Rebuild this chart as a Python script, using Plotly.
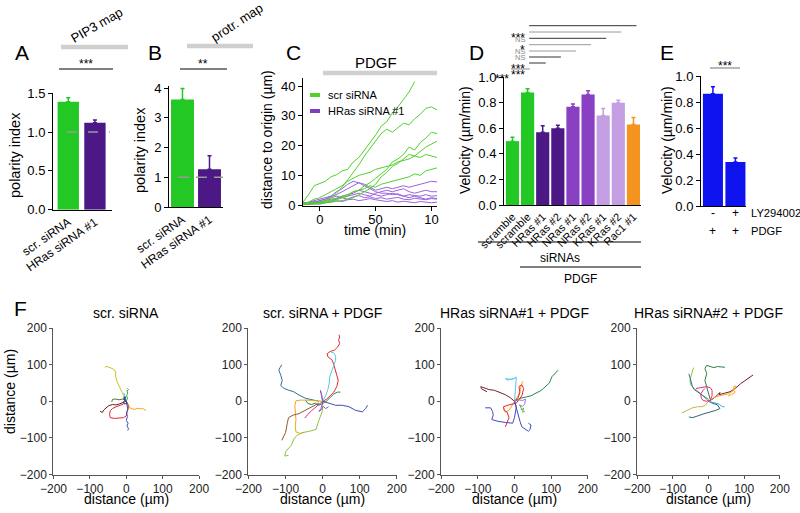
import plotly.graph_objects as go

W, H = 800, 513
FONT = "Liberation Sans, Arial, Helvetica, sans-serif"

# ---------------- data ----------------
# Panel A (PIP3 map polarity index)
a_labels = ["scr. siRNA", "HRas siRNA #1"]
a_values = [1.39, 1.12]
a_errors = [0.05, 0.035]
# Panel B (protrusion map polarity index)
b_labels = ["scr. siRNA", "HRas siRNA #1"]
b_values = [3.62, 1.27]
b_errors = [0.37, 0.45]
ref_level = 1.0

# Panel C (distance to origin vs time)
c_time = [-15, -10, -5, 0, 5, 10, 15, 20, 25, 30, 35, 40, 45, 50, 55, 60, 65, 70, 75, 80, 85, 90, 95, 100, 105]
c_scr = [
    [1.0, 3.5, 6.5, 7.2, 8.0, 9.5, 10.2, 11.5, 12.0, 14.5, 16.0, 18.5, 21.0, 23.5, 26.5, 28.0, 31.0, 33.0, 35.5, 38.0, 41.5, None, None, None, None],
    [0.3, 0.8, 0.5, 1.2, 1.5, 2.5, 4.0, 6.0, 8.5, 11.0, 13.5, 16.5, 19.0, 21.5, 24.0, 25.5, 24.5, 26.0, 27.5, 27.0, 29.0, 30.5, 32.5, 33.0, 32.0],
    [0.2, 0.5, 0.8, 0.6, 1.0, 1.5, 1.8, 2.5, 3.0, 4.5, 5.0, 6.5, 7.5, 9.0, 10.5, 12.0, 14.5, 15.5, 17.0, 19.5, 18.5, 21.0, 22.5, 24.5, 24.0],
    [0.4, 1.0, 2.0, 2.5, 3.5, 4.5, 5.5, 6.5, 8.0, 9.0, 10.0, 10.5, 11.0, 12.0, 12.5, 13.0, 13.5, 14.5, 15.0, 15.5, 16.5, 16.0, 17.0, 16.5, 16.0],
    [0.2, 0.4, 0.3, 0.5, 0.8, 1.0, 1.2, 1.5, 2.0, 2.5, 3.5, 4.5, 5.5, 7.0, 9.5, 11.0, 13.0, 14.0, 15.5, 17.0, 16.5, 18.0, 19.5, 20.5, 21.5],
    [0.3, 0.5, 0.4, 1.0, 1.2, 1.8, 2.5, 3.0, 3.5, 4.5, 5.0, 5.5, 6.5, 6.0, 7.0, 7.5, 8.0, 8.5, 9.0, 9.5, 10.5, 10.0, 11.5, 12.0, 12.5],
]
c_hras = [
    [0.5, 1.0, 1.5, 2.0, 2.5, 3.0, 3.5, 4.5, 5.5, 6.5, 7.5, 7.0, 6.0, 5.0, 5.5, 6.0, 5.5, 6.0, 6.5, 6.0, 6.5, 7.0, 7.5, 8.0, 7.8],
    [1.0, 0.5, 1.0, 1.5, 2.0, 3.0, 4.5, 5.5, 7.0, 8.0, 7.5, 6.5, 5.5, 4.5, 4.0, 4.0, 3.5, 3.8, 3.0, 3.5, 3.2, 3.0, 3.5, 3.0, 3.2],
    [0.2, 0.8, 1.2, 1.0, 1.5, 2.0, 2.2, 3.0, 3.5, 4.0, 5.0, 4.5, 4.0, 3.5, 3.0, 3.5, 4.0, 3.5, 3.0, 2.5, 3.0, 2.5, 2.0, 2.5, 2.2],
    [0.3, 0.5, 0.8, 1.5, 2.0, 2.5, 3.0, 2.5, 3.0, 3.5, 4.0, 3.5, 3.0, 4.0, 4.5, 5.0, 4.5, 5.0, 5.5, 4.5, 4.0, 4.5, 5.0, 4.5, 4.5],
    [0.1, 0.3, 0.5, 0.3, 0.8, 1.0, 1.5, 1.2, 1.8, 2.0, 1.5, 1.8, 2.2, 1.8, 1.5, 1.2, 1.5, 1.0, 1.3, 1.0, 0.8, 1.2, 1.0, 0.8, 1.0],
    [0.5, 0.2, 0.6, 1.0, 0.8, 1.5, 2.0, 2.5, 2.0, 2.8, 3.2, 2.5, 2.8, 2.2, 2.5, 2.0, 2.2, 2.6, 2.0, 1.8, 2.3, 2.0, 1.8, 2.2, 2.0],
]
c_xticks = [0, 50, 100]
c_xticklabels = ["0", "50", "10"]

# Panel D (velocity)
d_labels = ["scramble", "scramble", "HRas #1", "HRas #2", "NRas #1", "NRas #2", "KRas #1", "KRas #2", "Rac1 #1"]
d_values = [0.50, 0.88, 0.57, 0.60, 0.77, 0.865, 0.70, 0.80, 0.63]
d_errors = [0.03, 0.03, 0.05, 0.025, 0.02, 0.03, 0.055, 0.02, 0.055]
d_sig_targets = [8, 7, 6, 5, 4, 3, 2]
d_sig_labels = ["***", "NS", "*", "NS", "NS", "***", "***"]

# Panel E (velocity +/- LY294002)
e_values = [0.865, 0.34]
e_errors = [0.055, 0.03]
e_ly = ["-", "+"]
e_pdgf = ["+", "+"]

# Panel F (cell tracks, x/y in um)
f1_tracks = [
    [(0, 0), (-4, 8), (-8, 18), (-14, 28), (-18, 38), (-22, 46), (-26, 55), (-28, 64), (-30, 72), (-29, 80), (-34, 87), (-42, 91), (-50, 93), (-56, 96), (-58, 92)],
    [(0, 0), (3, -5), (6, -12), (10, -18), (16, -21), (24, -22), (30, -19), (38, -21), (45, -20), (50, -24), (54, -25)],
    [(0, 0), (4, -8), (6, -18), (2, -28), (0, -40), (-8, -45), (-20, -46), (-32, -47), (-44, -45), (-46, -36), (-44, -26), (-38, -20), (-28, -15), (-18, -12), (-8, -8)],
    [(-72, -27), (-66, -31), (-62, -24), (-56, -18), (-48, -12), (-38, -9), (-28, -10), (-18, -7), (-8, -4), (0, 0)],
    [(0, 0), (2, -10), (4, -22), (1, -32), (3, -42), (0, -52), (5, -60), (2, -68), (6, -75), (4, -80)],
    [(0, 0), (3, 8), (1, 16), (4, 22), (2, 28), (6, 32), (3, 35)],
    [(-40, -2), (-38, 5), (-30, 6), (-20, 4), (-10, 6), (0, 2)],
    [(0, 0), (-3, 6), (-6, 14), (-4, 20), (-8, 22)],
    [(0, 0), (-4, 6), (-2, 12), (-7, 10), (-5, 2), (-9, -4), (-3, -8), (2, -2)],
]
f2_tracks = [
    [(0, 0), (10, 5), (20, 15), (30, 25), (38, 40), (42, 57), (38, 72), (35, 85), (30, 100), (26, 112), (14, 122), (12, 130), (20, 136), (32, 140), (40, 148), (46, 158), (43, 168), (46, 176), (44, 182)],
    [(0, 0), (8, 15), (14, 32), (18, 50), (19, 67), (24, 82), (30, 98), (35, 112), (35, 124), (30, 132), (22, 135)],
    [(-10, 0), (-28, 3), (-46, 8), (-64, 17), (-78, 26), (-91, 30), (-104, 35), (-113, 43), (-109, 57), (-113, 71), (-118, 85), (-115, 92), (-110, 100)],
    [(0, 0), (15, -5), (35, -11), (53, -11), (71, -15), (89, -25), (107, -29), (116, -20), (121, -11)],
    [(0, 0), (-20, 2), (-40, 3), (-60, 3), (-72, 1), (-75, -12), (-73, -30), (-72, -50), (-74, -68), (-72, -84), (-60, -88), (-50, -85)],
    [(-10, -5), (-28, -15), (-46, -24), (-64, -34), (-80, -38), (-92, -45), (-95, -58), (-97, -72), (-100, -86), (-106, -98), (-110, -107)],
    [(0, 0), (0, -25), (-10, -52), (-18, -77), (-35, -82), (-55, -86), (-70, -94), (-78, -104), (-84, -120), (-92, -130), (-100, -138), (-102, -150), (-92, -148)],
    [(0, 0), (-10, -8), (-20, -16), (-30, -26), (-40, -36), (-48, -46)],
    [(0, 0), (-2, 10), (-3, 22), (-6, 30), (-2, 15), (0, -5), (-5, -20), (-10, -28), (-4, -24), (2, -14), (8, -20), (16, -15)],
    [(-45, 2), (-40, -6), (-30, -9), (-20, -5), (-10, -11), (0, -5), (10, 0), (20, 10), (30, 20), (40, 25), (48, 25)],
]
f3_tracks = [
    [(0, 0), (15, 8), (33, 12), (45, 15), (56, 21), (70, 28), (80, 36), (88, 44), (95, 50), (102, 67), (110, 75), (119, 85)],
    [(0, 0), (-12, 10), (-25, 18), (-40, 25), (-55, 30), (-70, 32), (-85, 38), (-92, 40), (-90, 34), (-80, 28), (-75, 26)],
    [(0, 0), (2, 20), (3, 40), (5, 55), (5, 65), (-10, 60), (-25, 62), (-20, 58), (0, 62), (5, 67)],
    [(-30, -20), (-25, -30), (-15, -25), (-5, -10), (0, 0), (10, 15), (15, 30), (20, 45), (22, 55)],
    [(0, 0), (10, 10), (15, 25), (12, 40), (20, 45), (25, 35), (20, 15), (5, -5), (-15, -10), (-30, -15), (-28, -25), (-20, -30), (-15, -45), (-20, -60), (-25, -70)],
    [(-80, -18), (-65, -18), (-60, -28), (-58, -38), (-62, -50), (-45, -55), (-25, -58), (-5, -60), (0, -45), (3, -30), (5, -15), (0, 0), (5, -20), (10, -40), (15, -55), (20, -70), (30, -78), (38, -82), (42, -78), (45, -65), (38, -60)],
    [(0, 0), (12, 4), (22, 2), (30, 6), (28, -8), (22, -14), (12, -10)],
    [(15, -10), (20, -24), (25, -18), (22, -30), (28, -28)],
]
f4_tracks = [
    [(0, 0), (10, 5), (23, 15), (28, 20), (32, 24), (30, 18), (35, 20), (45, 22), (60, 26), (75, 35), (90, 48), (100, 55), (110, 62), (118, 68), (125, 72)],
    [(0, 0), (15, 10), (30, 15), (45, 18), (55, 20), (65, 25), (75, 35), (78, 40), (72, 42), (70, 30), (75, 25), (65, 18), (55, 15)],
    [(5, 5), (0, 20), (-5, 39), (-10, 57), (-5, 76), (-10, 90), (-5, 98), (5, 95), (15, 92), (25, 95), (35, 94), (46, 93)],
    [(0, 0), (-10, 10), (-20, 20), (-30, 28), (-40, 35), (-50, 45), (-52, 58), (-48, 70), (-45, 80), (-42, 92)],
    [(0, 0), (-5, -5), (-10, -12), (-20, -15), (-31, -15), (-45, -18), (-60, -25), (-75, -32)],
    [(0, 0), (10, -5), (25, -10), (32, -20), (20, -25), (0, -30), (-15, -35), (-30, -40), (-45, -45), (-55, -43)],
    [(0, 0), (10, -2), (20, -5), (30, -8), (35, -12), (40, -15), (45, -15)],
    [(0, 5), (-15, 15), (-30, 25), (-40, 32), (-45, 40), (-48, 55), (-52, 65), (-55, 75)],
    [(-35, 35), (-25, 37), (-15, 40), (-5, 40), (5, 37), (10, 30), (10, 15), (5, 3), (-5, 0), (-15, 2), (-20, 8), (-22, 20), (-15, 30), (-10, 35)],
]
f_titles = ["scr. siRNA", "scr. siRNA + PDGF", "HRas siRNA#1 + PDGF", "HRas siRNA#2 + PDGF"]
f_ticks = [-200, -100, 0, 100, 200]

# ---------------- styles ----------------
GREEN = "#24c824"
DPURPLE = "#4b1886"
MPURPLE = "#8a40c2"
LPURPLE = "#c49ee2"
ORANGE = "#f5931f"
BLUE = "#0d12ee"
a_colors = [GREEN, DPURPLE]
d_colors = [GREEN, GREEN, DPURPLE, DPURPLE, MPURPLE, MPURPLE, LPURPLE, LPURPLE, ORANGE]
C_GREEN = "#4fd22c"
C_PURPLE = "#9c62de"
f1_colors = ["#cfc21e", "#f7a21b", "#e5262a", "#6e1a22", "#3b4cb8", "#2f9e44", "#557a2a", "#5ec4e6", "#1f2f7a"]
f2_colors = ["#e5262a", "#5ec4e6", "#2c6e9e", "#3b4cb8", "#f7a21b", "#8c5a2b", "#8cc43c", "#e0208f", "#8e5bc9", "#1f8a4a"]
f3_colors = ["#1f8a4a", "#7a1f2b", "#5ec4e6", "#f7a21b", "#e5262a", "#3b4cb8", "#9a7bd0", "#59b83a"]
f4_colors = ["#6e1a22", "#f7a21b", "#2f7a4a", "#8cc43c", "#c7b33a", "#2b6675", "#4aa0d8", "#2c6e9e", "#e8287a"]


def X(px):
    return px / W


def Y(py):
    return 1 - py / H


fig = go.Figure()

# ---- bar panels ----
def add_bars(vals, errs, cols, ax, width):
    for i, (v, e, c) in enumerate(zip(vals, errs, cols)):
        fig.add_trace(go.Bar(
            x=[i], y=[v], width=width, marker=dict(color=c, line=dict(width=0)),
            error_y=dict(type="data", array=[e], arrayminus=[0], symmetric=False,
                         color=c, thickness=1.5, width=2),
            xaxis="x" + ax, yaxis="y" + ax, showlegend=False, hoverinfo="skip"))


add_bars(a_values, a_errors, a_colors, "", 0.8)
add_bars(b_values, b_errors, a_colors, "2", 0.85)
add_bars(d_values, d_errors, d_colors, "4", 0.87)
add_bars(e_values, e_errors, [BLUE, BLUE], "5", 0.89)

fig.add_trace(go.Scatter(x=[-0.05, 1.56], y=[ref_level, ref_level], mode="lines",
                         line=dict(color="#9a9a9a", width=1.5, dash="10px,11px"),
                         xaxis="x", yaxis="y", showlegend=False, hoverinfo="skip"))
fig.add_trace(go.Scatter(x=[-0.17, 1.5], y=[ref_level, ref_level], mode="lines",
                         line=dict(color="#9a9a9a", width=1.5, dash="11px,7px"),
                         xaxis="x2", yaxis="y2", showlegend=False, hoverinfo="skip"))

# ---- panel C lines ----
for ys in c_hras:
    fig.add_trace(go.Scatter(x=c_time, y=ys, mode="lines", line=dict(color=C_PURPLE, width=1),
                             xaxis="x3", yaxis="y3", showlegend=False, hoverinfo="skip"))
for ys in c_scr:
    fig.add_trace(go.Scatter(x=c_time, y=ys, mode="lines", line=dict(color=C_GREEN, width=1),
                             xaxis="x3", yaxis="y3", showlegend=False, hoverinfo="skip"))

# ---- panel F tracks ----
for k, (tracks, cols) in enumerate([(f1_tracks, f1_colors), (f2_tracks, f2_colors),
                                    (f3_tracks, f3_colors), (f4_tracks, f4_colors)]):
    ax = str(6 + k)
    for tr, c in zip(tracks, cols):
        fig.add_trace(go.Scatter(x=[p[0] for p in tr], y=[p[1] for p in tr], mode="lines",
                                 line=dict(color=c, width=1), xaxis="x" + ax, yaxis="y" + ax,
                                 showlegend=False, hoverinfo="skip"))

# ---- axes ----
def axis(domain, rng, anchor, **kw):
    d = dict(domain=domain, range=rng, anchor=anchor, showgrid=False, zeroline=False,
             showline=True, linecolor="black", linewidth=1, ticks="outside", ticklen=4,
             tickwidth=1, tickcolor="black", automargin=False, fixedrange=True,
             tickfont=dict(family=FONT, size=13, color="black"))
    d.update(kw)
    return d


lay = {}
# A
lay["xaxis"] = axis([X(53), X(112)], [-0.573, 1.64], "y", tickvals=[0, 1], ticktext=a_labels,
                    ticks="", tickangle=-35, tickfont=dict(family=FONT, size=12, color="black"))
lay["yaxis"] = axis([Y(209.7), Y(93)], [0, 1.502], "x", tickvals=[0, 0.5, 1.0, 1.5], tickformat=".1f")
# B
lay["xaxis2"] = axis([X(169), X(223)], [-0.5, 1.5], "y2", tickvals=[0, 1], ticktext=b_labels,
                     ticks="", tickangle=-35, tickfont=dict(family=FONT, size=12, color="black"))
lay["yaxis2"] = axis([Y(207), Y(86)], [0, 4.07], "x2", tickvals=[0, 1, 2, 3, 4])
# C
lay["xaxis3"] = axis([X(303), X(437)], [-15, 105], "y3", tickvals=c_xticks, ticktext=c_xticklabels,
                     ticklabelstandoff=-3)
lay["yaxis3"] = axis([Y(206), Y(78)], [-0.3, 42.7], "x3", tickvals=[0, 10, 20, 30, 40])
# D
lay["xaxis4"] = axis([X(504), X(641)], [-0.56, 8.5], "y4", tickvals=list(range(len(d_labels))),
                     ticktext=d_labels, ticks="", tickangle=-45,
                     tickfont=dict(family=FONT, size=11, color="black"))
lay["yaxis4"] = axis([Y(205), Y(77)], [0, 1.002], "x4", tickvals=[0, 0.2, 0.4, 0.6, 0.8, 1.0], tickformat=".1f")
# E
lay["xaxis5"] = axis([X(701), X(746)], [-0.53, 1.47], "y5", showticklabels=False, ticks="")
lay["yaxis5"] = axis([Y(206), Y(76)], [0, 1.002], "x5", tickvals=[0, 0.2, 0.4, 0.6, 0.8, 1.0], tickformat=".1f")
# F
f_x = [(53.3, 199.3), (248.3, 397), (441, 588), (637, 780)]
for k, (x0, x1) in enumerate(f_x):
    n = str(6 + k)
    ff = dict(family=FONT, size=12, color="#222")
    lay["xaxis" + n] = axis([X(x0), X(x1)], [-200.5, 200.5], "y" + n, tickvals=f_ticks,
                            linecolor="#555", tickcolor="#555", ticklen=3, tickfont=ff)
    lay["yaxis" + n] = axis([Y(474.5), Y(328)], [-200.5, 200.5], "x" + n, tickvals=f_ticks,
                            linecolor="#555", tickcolor="#555", ticklen=3, tickfont=ff)

# ---- annotations ----
ann = []


def txt(x, y, s, size=13, angle=0, xanchor="center", color="black", yanchor="middle"):
    ann.append(dict(x=X(x), y=Y(y), xref="paper", yref="paper", text=s,
                    showarrow=False, textangle=angle, xanchor=xanchor, yanchor=yanchor,
                    font=dict(family=FONT, size=size, color=color)))


for letter, x, y in [("A", 22, 52), ("B", 155, 52), ("C", 293, 52), ("D", 476, 52), ("E", 667, 52), ("F", 20, 308)]:
    txt(x, y, letter, size=21)

txt(96, 25, "PIP3 map", size=13, angle=-30)
txt(237, 23, "protr. map", size=13, angle=-33)
txt(86, 64, "***", size=12)
txt(203, 64, "**", size=12)
txt(376, 63, "PDGF", size=15)
txt(326, 95, "scr siRNA", size=11, xanchor="left")
txt(326, 111, "HRas siRNA #1", size=11, xanchor="left")

txt(15, 155, "polarity index", size=14.5, angle=-90)
txt(140, 150, "polarity index", size=14.5, angle=-90)
txt(267, 140, "distance to origin (µm)", size=14, angle=-90)
txt(465, 140, "Velocity (µm/min)", size=14, angle=-90)
txt(667, 140, "Velocity (µm/min)", size=14, angle=-90)
txt(375, 230, "time (min)", size=14)

txt(560, 258, "siRNAs", size=12)
txt(580, 279, "PDGF", size=12)

# E labels
for i, (ly, pd) in enumerate(zip(e_ly, e_pdgf)):
    ann.append(dict(x=i, y=Y(213), xref="x5", yref="paper", text=ly, showarrow=False,
                    font=dict(family=FONT, size=12, color="black")))
    ann.append(dict(x=i, y=Y(231), xref="x5", yref="paper", text=pd, showarrow=False,
                    font=dict(family=FONT, size=12, color="black")))
txt(749, 213, "LY294002", size=11.2, xanchor="left")
txt(749, 231, "PDGF", size=11.2, xanchor="left")
txt(725, 66, "***", size=12)

# D significance labels
sig_rows_y = [25.7, 32, 38.3, 44.7, 51, 57, 63]
shapes = []
for tgt, lab, yy in zip(d_sig_targets, d_sig_labels, sig_rows_y):
    ns = lab == "NS"
    ann.append(dict(x=1.0, y=Y(yy + (0.5 if ns else 3)), xref="x4", yref="paper", text=lab, showarrow=False,
                    xanchor="right", font=dict(family=FONT, size=7.5 if ns else 12,
                                                color="#8a8a8a" if ns else "black"),
                    xshift=-1))
    shapes.append(dict(type="line", xref="x4", yref="paper", x0=1.1, x1=tgt + 0.2, y0=Y(yy), y1=Y(yy),
                       line=dict(color="#9a9a9a" if ns else "#333333", width=1)))
ann.append(dict(x=X(502), y=Y(70), xref="paper", yref="paper", text="***", showarrow=False,
                font=dict(family=FONT, size=12, color="black")))
shapes.append(dict(type="line", xref="x4", yref="paper", x0=-0.1, x1=1.15, y0=Y(69), y1=Y(69),
                   line=dict(color="#888888", width=1)))

# F titles / axis titles
for (x0, x1), t in zip(f_x, f_titles):
    cx = (x0 + x1) / 2
    txt(cx, 313, t, size=14)
    txt(cx, 499, "distance (µm)", size=14)
txt(10, 392, "distance (µm)", size=14, angle=-90)

# ---- decorative shapes ----
def hline(x0, x1, y, color, width):
    shapes.append(dict(type="line", xref="paper", yref="paper", x0=X(x0), x1=X(x1), y0=Y(y), y1=Y(y),
                       line=dict(color=color, width=width)))


hline(61, 128, 47, "#cfcfcf", 4.5)
hline(187, 253, 46, "#cfcfcf", 4.5)
hline(323, 437, 73, "#cfcfcf", 4.5)
hline(59, 113, 69, "black", 1)
hline(180, 227, 69, "black", 1)
hline(710, 740, 68, "#888888", 1.2)
hline(478, 641, 242, "black", 1)
hline(520, 641, 267, "black", 1)
hline(310, 320, 95, C_GREEN, 4)
hline(310, 320, 111, "#7b3fc0", 4)

fig.update_layout(
    width=W, height=H, margin=dict(l=0, r=0, t=0, b=0),
    paper_bgcolor="white", plot_bgcolor="white", showlegend=False,
    barmode="overlay", annotations=ann, shapes=shapes,
    font=dict(family=FONT, color="black"), **lay)

fig.write_html("out.html", config={"displayModeBar": False, "staticPlot": True},
               post_script="document.body.style.margin='0px';")
